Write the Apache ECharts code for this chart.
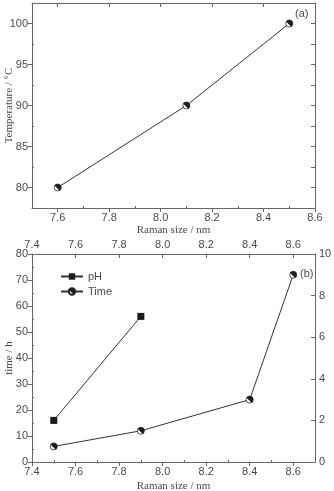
<!DOCTYPE html>
<html>
<head>
<meta charset="utf-8">
<script src="https://cdn.jsdelivr.net/npm/echarts@6/dist/echarts.min.js"></script>
<style>
  html, body { margin: 0; padding: 0; background: #fff; }
  #chart { width: 334px; height: 491px; }
</style>
</head>
<body>
<div id="chart"></div>
<script>
// (a) temperature vs Raman size
var tempSize = [7.6, 8.1, 8.5];
var tempValue = [80, 90, 100];
var tempXTicks = [7.6, 7.8, 8.0, 8.2, 8.4, 8.6];
var tempYTicks = [80, 85, 90, 95, 100];

// (b) pH and time vs Raman size
var phSize = [7.5, 7.9];
var phValue = [2, 7];
var timeSize = [7.5, 7.9, 8.4, 8.6];
var timeValue = [6, 12, 24, 72];
var bXTicks = [7.4, 7.6, 7.8, 8.0, 8.2, 8.4, 8.6];
var timeTicks = [0, 10, 20, 30, 40, 50, 60, 70, 80];
var phTicks = [0, 2, 4, 6, 8, 10];

var axisColor = '#666';
var textColor = '#4a4a4a';
var sans = 'Liberation Sans';
var serif = 'Liberation Serif';

function mids(arr) {
    var out = [];
    for (var i = 0; i < arr.length - 1; i++) out.push((arr[i] + arr[i + 1]) / 2);
    return out;
}

var ballColor = new echarts.graphic.LinearGradient(1, 0, 0, 1, [
    {offset: 0, color: '#111'},
    {offset: 0.55, color: '#222'},
    {offset: 0.62, color: '#fff'},
    {offset: 1, color: '#fff'}
]);

// one axis of the frame: labels / outward ticks or inward ticks only
function axis(opt) {
    var a = {
        type: 'value',
        gridIndex: opt.grid,
        position: opt.position,
        min: opt.min,
        max: opt.max,
        axisLine: {show: opt.line !== false, onZero: false, lineStyle: {color: axisColor, width: 1}},
        axisTick: {
            show: true,
            inside: !!opt.inside,
            length: opt.tickLen || 4,
            customValues: opt.ticks,
            lineStyle: {color: axisColor}
        },
        axisLabel: {
            show: !!opt.labels,
            customValues: opt.ticks,
            color: textColor,
            fontFamily: sans,
            fontSize: 11,
            margin: 4,
            formatter: opt.fmt || function (v) { return v; }
        },
        splitLine: {show: false}
    };
    if (opt.name) {
        a.name = opt.name;
        a.nameLocation = 'middle';
        a.nameGap = opt.nameGap;
        a.nameMoveOverlap = false;
        a.nameTextStyle = {color: textColor, fontFamily: serif, fontSize: 11};
    }
    return a;
}

var fx = function (v) { return v.toFixed(1); };

var xAxes = [
    axis({grid: 0, position: 'bottom', min: 7.5, max: 8.6, ticks: tempXTicks, labels: true, fmt: fx, name: 'Raman size / nm', nameGap: 17}),
    axis({grid: 0, position: 'top', min: 7.5, max: 8.6, ticks: tempXTicks, inside: true}),
    axis({grid: 0, position: 'bottom', min: 7.5, max: 8.6, ticks: [7.7, 7.9, 8.1, 8.3, 8.5], inside: true, tickLen: 2, line: false}),
    axis({grid: 1, position: 'bottom', min: 7.4, max: 8.7, ticks: bXTicks, labels: true, fmt: fx, name: 'Raman size / nm', nameGap: 19}),
    axis({grid: 1, position: 'top', min: 7.4, max: 8.7, ticks: bXTicks, labels: true, inside: true, fmt: fx}),
    axis({grid: 1, position: 'bottom', min: 7.4, max: 8.7, ticks: mids(bXTicks), inside: true, tickLen: 2, line: false})
];

var yAxes = [
    axis({grid: 0, position: 'left', min: 77.5, max: 102.5, ticks: tempYTicks, labels: true, name: 'Temperature / °C', nameGap: 17}),
    axis({grid: 0, position: 'right', min: 77.5, max: 102.5, ticks: [80, 82.5, 85, 87.5, 90, 92.5, 95, 97.5, 100], inside: true}),
    axis({grid: 0, position: 'left', min: 77.5, max: 102.5, ticks: mids(tempYTicks), inside: true, tickLen: 2, line: false}),
    axis({grid: 1, position: 'left', min: 0, max: 80, ticks: timeTicks, labels: true, name: 'time / h', nameGap: 17}),
    axis({grid: 1, position: 'right', min: 0, max: 10, ticks: phTicks, labels: true, inside: true}),
    axis({grid: 1, position: 'left', min: 0, max: 80, ticks: mids(timeTicks), inside: true, tickLen: 2, line: false})
];

function pairs(xs, ys) {
    return xs.map(function (x, i) { return [x, ys[i]]; });
}

var chart = echarts.init(document.getElementById('chart'));
chart.setOption({
    animation: false,
    backgroundColor: '#fff',
    grid: [
        {left: 32, top: 3, width: 283, height: 205, containLabel: false, outerBoundsMode: 'none'},
        {left: 32, top: 254, width: 283, height: 208, containLabel: false, outerBoundsMode: 'none'}
    ],
    xAxis: xAxes,
    yAxis: yAxes,
    legend: {
        left: 55,
        top: 266,
        orient: 'vertical',
        itemGap: 4,
        itemWidth: 22,
        itemHeight: 8,
        textStyle: {color: textColor, fontFamily: sans, fontSize: 11},
        data: ['pH', 'Time']
    },
    graphic: [
        {type: 'text', left: 295, top: 8, style: {text: '(a)', fill: textColor, font: '11px Liberation Sans'}},
        {type: 'text', left: 300, top: 268, style: {text: '(b)', fill: textColor, font: '11px Liberation Sans'}}
    ],
    series: [
        {
            name: 'Temperature',
            type: 'line',
            xAxisIndex: 0,
            yAxisIndex: 0,
            symbol: 'circle',
            symbolSize: 7,
            itemStyle: {color: ballColor, borderColor: '#222', borderWidth: 0.8},
            lineStyle: {color: '#333', width: 1},
            data: pairs(tempSize, tempValue)
        },
        {
            name: 'pH',
            type: 'line',
            xAxisIndex: 3,
            yAxisIndex: 4,
            symbol: 'rect',
            symbolSize: 7,
            itemStyle: {color: '#1a1a1a'},
            lineStyle: {color: '#333', width: 1},
            data: pairs(phSize, phValue)
        },
        {
            name: 'Time',
            type: 'line',
            xAxisIndex: 3,
            yAxisIndex: 3,
            symbol: 'circle',
            symbolSize: 7,
            itemStyle: {color: ballColor, borderColor: '#222', borderWidth: 0.8},
            lineStyle: {color: '#333', width: 1},
            data: pairs(timeSize, timeValue)
        }
    ]
});
</script>
</body>
</html>
